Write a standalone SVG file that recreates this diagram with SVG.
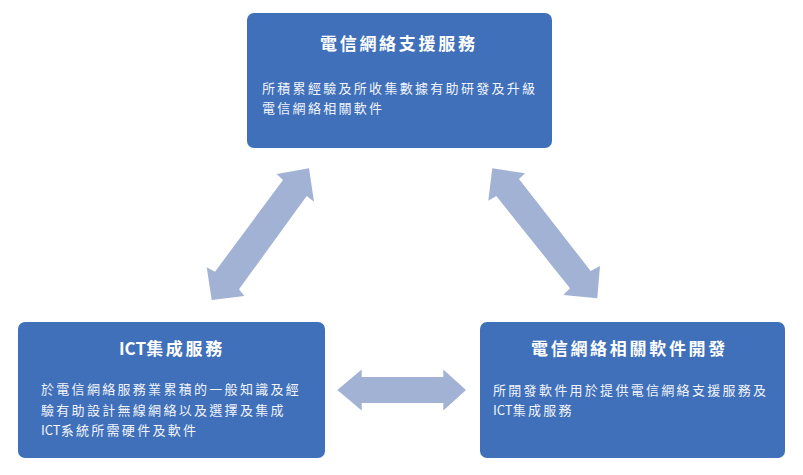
<svg xmlns="http://www.w3.org/2000/svg" width="803" height="475" viewBox="0 0 803 475">
<style>
.box{fill:#3F70B9;}
.title{font-family:"Noto Sans CJK TC","Noto Sans",sans-serif;font-size:17px;font-weight:bold;fill:#FFFFFF;letter-spacing:2.7px;}
.body{font-family:"Noto Sans CJK TC","Noto Sans",sans-serif;font-size:13px;fill:#F2F4F9;letter-spacing:2.3px;}
.lat{letter-spacing:0px;}
.arrow{fill:#A2B2D5;}
</style>
<rect width="803" height="475" fill="#FFFFFF"/>
<g id="connectors">
<polygon class="arrow" points="309,168.3 314,201.7 306.7,196 239,289.3 244.3,296 211.7,300 206.7,267.3 215,271.7 283,180 276.7,174"/>
<polygon class="arrow" points="492.3,168.3 525,173.3 519,179 590.7,271 600,266 597.3,298.3 563.3,295 570,288.3 496.3,196 488.3,200.7"/>
<polygon class="arrow" points="337.3,390 361.7,369.5 361.7,377 443.3,377 443.3,369.5 466,390 443.3,410.5 443.3,403 361.7,403 361.7,410.5"/>
</g>
<g id="node-top">
<rect class="box" x="247" y="13" width="305" height="135" rx="7"/>
<text class="title" x="320" y="50">電信網絡支援服務</text>
<text class="body" x="262" y="93">所積累經驗及所收集數據有助研發及升級</text>
<text class="body" x="262" y="113">電信網絡相關軟件</text>
</g>
<g id="node-left">
<rect class="box" x="18" y="322" width="307" height="136" rx="7"/>
<text class="title" x="119" y="355"><tspan class="lat">ICT</tspan>集成服務</text>
<text class="body" x="41" y="394">於電信網絡服務業累積的一般知識及經</text>
<text class="body" x="41" y="414.5">驗有助設計無線網絡以及選擇及集成</text>
<text class="body" x="41" y="435"><tspan class="lat">ICT</tspan>系統所需硬件及軟件</text>
</g>
<g id="node-right">
<rect class="box" x="480" y="322" width="305" height="136" rx="7"/>
<text class="title" x="531" y="355">電信網絡相關軟件開發</text>
<text class="body" x="493" y="395">所開發軟件用於提供電信網絡支援服務及</text>
<text class="body" x="493" y="415"><tspan class="lat">ICT</tspan>集成服務</text>
</g>
</svg>
